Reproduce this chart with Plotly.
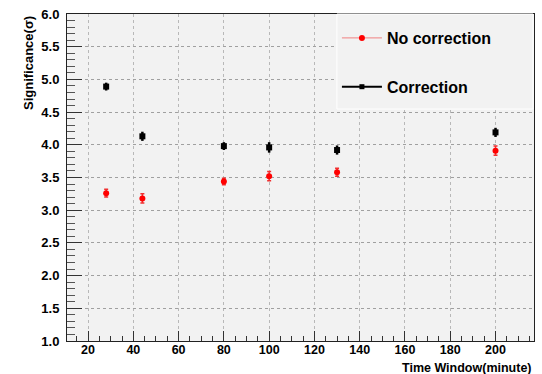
import plotly.graph_objects as go

# Time windows (minutes) and measured significance
time_window = [28, 44, 80, 100, 130, 200]
sig_no_corr = [3.26, 3.18, 3.44, 3.52, 3.58, 3.91]
err_no_corr = [0.06, 0.07, 0.05, 0.07, 0.06, 0.07]
sig_corr = [4.89, 4.13, 3.98, 3.96, 3.92, 4.19]
err_corr = [0.06, 0.07, 0.06, 0.08, 0.07, 0.07]

FONT = "Liberation Sans, Arial, sans-serif"
BG = "#f2f2f2"

fig = go.Figure()

# measured points
fig.add_trace(go.Scatter(
    x=time_window, y=sig_no_corr, mode="markers", showlegend=False,
    marker=dict(symbol="circle", size=6, color="#ff0000"),
    error_y=dict(type="data", array=err_no_corr, color="#f03030",
                 thickness=1.5, width=2),
))
fig.add_trace(go.Scatter(
    x=time_window, y=sig_corr, mode="markers", showlegend=False,
    marker=dict(symbol="square", size=6, color="#000000"),
    error_y=dict(type="data", array=err_corr, color="#000000",
                 thickness=2.5, width=0),
))

# legend entries
fig.add_trace(go.Scatter(
    x=[None], y=[None], mode="lines+markers", name="No correction",
    legendgroup="a", line=dict(color="#f08080", width=1),
    marker=dict(symbol="circle", size=6, color="#ff0000"),
))
fig.add_trace(go.Scatter(
    x=[None], y=[None], mode="lines+markers", name="Correction",
    legendgroup="b", line=dict(color="#000000", width=2),
    marker=dict(symbol="square", size=5, color="#000000"),
))

axis_font = dict(family=FONT, size=13, color="#000000", weight="bold")

fig.update_xaxes(
    range=[10.7, 217], tickvals=[20, 40, 60, 80, 100, 120, 140, 160, 180, 200],
    ticks="inside", ticklen=10, tickwidth=1, tickcolor="#333333",
    minor=dict(dtick=5, tick0=0, ticks="inside", ticklen=5, tickcolor="#333333",
               showgrid=False),
    showgrid=True, gridcolor="#b8b8b8", griddash="dot", gridwidth=1,
    showline=True, linecolor="#222222", linewidth=1, mirror=True,
    zeroline=False, tickfont=dict(family=FONT, size=12.5, color="#000000",
                                  weight="bold"),
    ticklabelstandoff=-3,
)
fig.update_yaxes(
    range=[1.0, 6.0], dtick=0.5, tick0=1.0, tickformat=".1f",
    ticks="inside", ticklen=15, tickwidth=1, tickcolor="#333333",
    minor=dict(dtick=0.1, tick0=1.0, ticks="inside", ticklen=8,
               tickcolor="#555555", showgrid=False),
    showgrid=True, gridcolor="#a0a0a0", griddash="dot", gridwidth=1,
    showline=True, linecolor="#222222", linewidth=1, mirror=True,
    zeroline=False, tickfont=axis_font, ticklabelstandoff=4,
)

fig.update_layout(
    width=542, height=374,
    margin=dict(l=67, r=8, t=14, b=33),
    paper_bgcolor="#ffffff", plot_bgcolor=BG,
    font=dict(family=FONT, color="#000000"),
    legend=dict(
        x=0.578, y=1.0 - 7 / 327, xanchor="left", yanchor="top",
        xref="paper", yref="paper",
        bgcolor="rgba(0,0,0,0)", borderwidth=0,
        font=dict(family=FONT, size=16, color="#000000", weight="bold"),
        tracegroupgap=25, itemwidth=40,
    ),
    shapes=[dict(
        type="rect", xref="paper", yref="paper", layer="above",
        x0=0.578, x1=0.998, y0=(341 - 109) / 327, y1=1.0,
        fillcolor=BG, line=dict(color="#ffffff", width=1),
    )],
    annotations=[
        dict(text="<b>Time Window(minute)</b>", xref="paper", yref="paper",
             x=1.0, y=0.0, xanchor="right", yanchor="top", yshift=-18,
             showarrow=False, font=dict(family=FONT, size=12.5, color="#000000")),
        dict(text="<b>Significance(σ)</b>", xref="paper", yref="paper",
             x=0.0, y=1.0, xanchor="center", yanchor="top", xshift=-39,
             textangle=-90, showarrow=False,
             font=dict(family=FONT, size=13, color="#000000")),
    ],
)

fig.write_html("out.html")
